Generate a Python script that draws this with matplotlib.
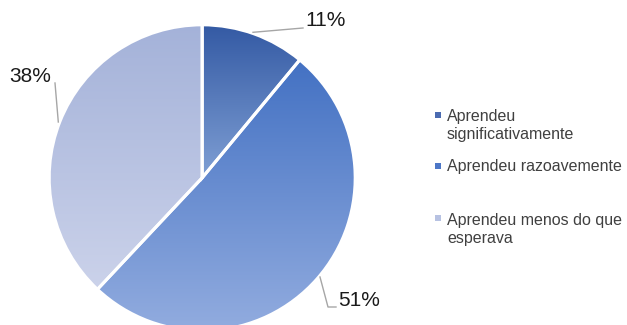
import numpy as np
import matplotlib
matplotlib.use("Agg")
import matplotlib.pyplot as plt
from matplotlib.colors import LinearSegmentedColormap

# ---- data ----
categories = ["Aprendeu\nsignificativamente", "Aprendeu razoavemente", "Aprendeu menos do que\nesperava"]
values = [11, 51, 38]
pct_labels = ["11%", "51%", "38%"]

# gradient colours (top, bottom) for each slice, and legend marker colours
grad_top = ["#345aa4", "#4371c3", "#a4b2d9"]
grad_bot = ["#7f9fd4", "#92acdf", "#cbd2ea"]
legend_colors = ["#4b6bb1", "#4d77c7", "#b7c2e2"]

W, H = 627, 325
plt.rcParams['font.family'] = ['Liberation Sans', 'DejaVu Sans']

fig = plt.figure(figsize=(W / 100, H / 100), dpi=100)
ax = fig.add_axes([0, 0, 1, 1])

def Y(y):  # pixel row -> data y
    return H - y

cx, cy, r = 202.2, Y(177.8), 153

wedges, _ = ax.pie(values, startangle=90, counterclock=False, center=(cx, cy), radius=r,
                   colors=grad_top, wedgeprops=dict(edgecolor='white', linewidth=2.2))

for w, top, bot in zip(wedges, grad_top, grad_bot):
    bb = w.get_path().get_extents(w.get_patch_transform())
    cmap = LinearSegmentedColormap.from_list('g', [bot, top])
    grad = np.linspace(0, 1, 256).reshape(-1, 1)
    im = ax.imshow(grad, extent=[bb.x0, bb.x1, bb.y0, bb.y1], origin='lower',
                   cmap=cmap, aspect='auto', zorder=1, interpolation='bilinear')
    im.set_clip_path(w)
    w.set_facecolor('none')
    w.set_zorder(2)

# percentage labels with leader lines
lc = '#a6a6a6'
ax.plot([253, 303], [Y(32.3), Y(28)], color=lc, lw=1)
ax.text(305, Y(21), pct_labels[0], fontsize=15, ha='left', va='center', color='#1a1a1a')

ax.plot([320, 328, 336], [Y(277), Y(307), Y(307)], color=lc, lw=1)
ax.text(338, Y(300), pct_labels[1], fontsize=15, ha='left', va='center', color='#1a1a1a')

ax.plot([55, 58.3], [Y(83), Y(122)], color=lc, lw=1)
ax.text(30, Y(76), pct_labels[2], fontsize=15, ha='center', va='center', color='#1a1a1a')

# legend
marker_y = [115, 166, 218]
text_y = [125.5, 166.5, 229]
for c, lab, my, ty in zip(legend_colors, categories, marker_y, text_y):
    ax.scatter([438], [Y(my)], marker='s', s=18, color=c, linewidths=0)
    ax.text(447, Y(ty), lab, fontsize=11.5, ha='left', va='center', color='#404040',
            linespacing=1.25)

ax.set_xlim(0, W)
ax.set_ylim(0, H)
ax.set_aspect('auto')
ax.axis('off')

fig.savefig('out.png', dpi=100)
